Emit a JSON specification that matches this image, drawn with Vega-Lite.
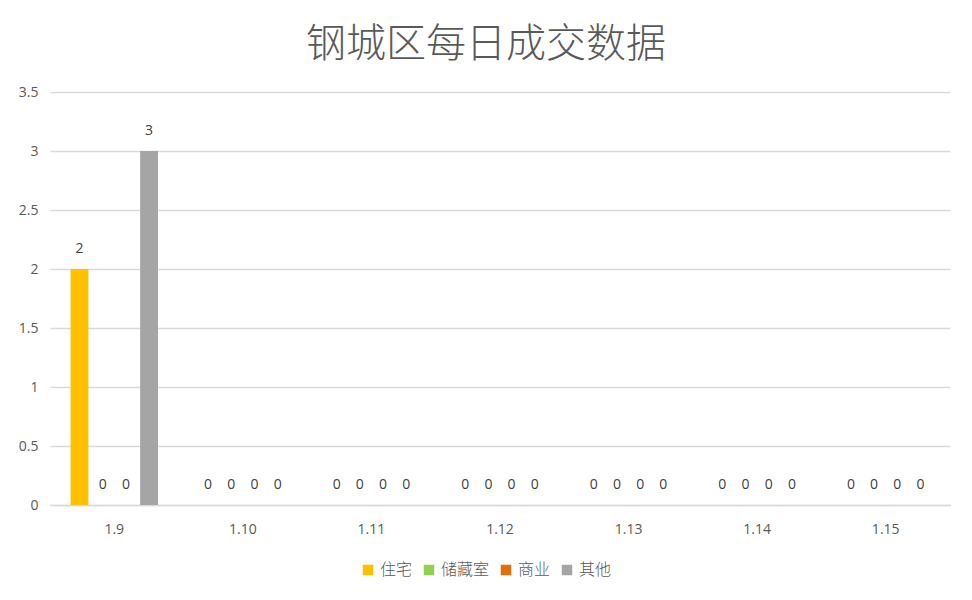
{
  "$schema": "https://vega.github.io/schema/vega-lite/v6.json",
  "autosize": {"type": "none"},
  "width": 900,
  "height": 413,
  "padding": {"left": 50, "top": 92, "right": 22, "bottom": 95},
  "background": "white",
  "config": {"view": {"stroke": null}},
  "title": {
    "text": "钢城区每日成交数据",
    "font": "Noto Sans CJK SC",
    "fontSize": 40,
    "fontWeight": 300,
    "color": "#595959",
    "anchor": "middle",
    "dx": -14,
    "offset": 20
  },
  "data": {
    "values": [
      {"date": "1.9", "type": "住宅", "value": 2},
      {"date": "1.9", "type": "储藏室", "value": 0},
      {"date": "1.9", "type": "商业", "value": 0},
      {"date": "1.9", "type": "其他", "value": 3},
      {"date": "1.10", "type": "住宅", "value": 0},
      {"date": "1.10", "type": "储藏室", "value": 0},
      {"date": "1.10", "type": "商业", "value": 0},
      {"date": "1.10", "type": "其他", "value": 0},
      {"date": "1.11", "type": "住宅", "value": 0},
      {"date": "1.11", "type": "储藏室", "value": 0},
      {"date": "1.11", "type": "商业", "value": 0},
      {"date": "1.11", "type": "其他", "value": 0},
      {"date": "1.12", "type": "住宅", "value": 0},
      {"date": "1.12", "type": "储藏室", "value": 0},
      {"date": "1.12", "type": "商业", "value": 0},
      {"date": "1.12", "type": "其他", "value": 0},
      {"date": "1.13", "type": "住宅", "value": 0},
      {"date": "1.13", "type": "储藏室", "value": 0},
      {"date": "1.13", "type": "商业", "value": 0},
      {"date": "1.13", "type": "其他", "value": 0},
      {"date": "1.14", "type": "住宅", "value": 0},
      {"date": "1.14", "type": "储藏室", "value": 0},
      {"date": "1.14", "type": "商业", "value": 0},
      {"date": "1.14", "type": "其他", "value": 0},
      {"date": "1.15", "type": "住宅", "value": 0},
      {"date": "1.15", "type": "储藏室", "value": 0},
      {"date": "1.15", "type": "商业", "value": 0},
      {"date": "1.15", "type": "其他", "value": 0}
    ]
  },
  "encoding": {
    "x": {
      "field": "date",
      "type": "nominal",
      "sort": null,
      "title": null,
      "scale": {"paddingInner": 0.32, "paddingOuter": 0.16},
      "axis": {
        "labelAngle": 0,
        "labelFont": "Open Sans",
        "labelFontSize": 14,
        "labelColor": "#595959",
        "labelPadding": 17,
        "ticks": false,
        "domainColor": "#D9D9D9",
        "domainWidth": 1.5,
        "grid": false
      }
    },
    "xOffset": {
      "field": "type",
      "type": "nominal",
      "sort": ["住宅", "储藏室", "商业", "其他"],
      "scale": {"paddingInner": 0.23}
    },
    "y": {
      "field": "value",
      "type": "quantitative",
      "title": null,
      "scale": {"domain": [0, 3.5], "nice": false},
      "axis": {
        "values": [0, 0.5, 1, 1.5, 2, 2.5, 3, 3.5],
        "format": "~g",
        "labelFont": "Open Sans",
        "labelFontSize": 14,
        "labelColor": "#595959",
        "labelPadding": 12,
        "ticks": false,
        "domain": false,
        "gridColor": "#D9D9D9",
        "gridWidth": 1.5
      }
    },
    "color": {
      "field": "type",
      "type": "nominal",
      "sort": ["住宅", "储藏室", "商业", "其他"],
      "scale": {
        "domain": ["住宅", "储藏室", "商业", "其他"],
        "range": ["#FFC000", "#92D050", "#E46C0A", "#A5A5A5"]
      },
      "legend": {
        "title": null,
        "orient": "none",
        "legendX": 310,
        "legendY": 470,
        "direction": "horizontal",
        "symbolType": "square",
        "symbolSize": 110,
        "symbolStrokeWidth": 0,
        "labelFont": "Noto Sans CJK SC",
        "labelFontSize": 16,
        "labelFontWeight": 300,
        "labelColor": "#595959",
        "columnPadding": 8,
        "labelOffset": 4
      }
    }
  },
  "layer": [
    {"mark": {"type": "bar"}},
    {
      "mark": {
        "type": "text",
        "baseline": "middle",
        "dy": -20,
        "font": "Open Sans",
        "fontSize": 14,
        "color": "#404040"
      },
      "encoding": {
        "text": {"field": "value", "type": "quantitative"},
        "color": {"value": "#404040"}
      }
    }
  ]
}
